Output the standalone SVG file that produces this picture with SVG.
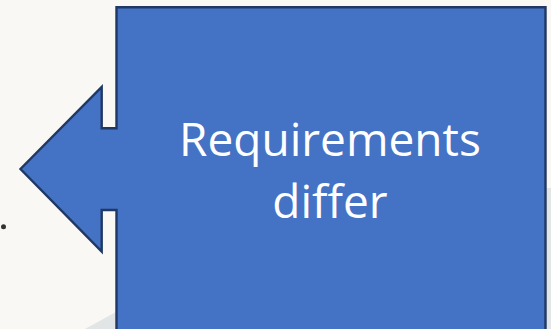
<svg xmlns="http://www.w3.org/2000/svg" width="551" height="329" viewBox="0 0 551 329">
  <style>
    .callout { fill: #4472C4; stroke: #1F3864; stroke-width: 2.4; stroke-linejoin: miter; }
    .label { font-family: "Open Sans", "Noto Sans", sans-serif; font-size: 46px; fill: #FFFFFF; text-anchor: middle; }
  </style>
  <rect x="0" y="0" width="551" height="329" fill="#F9F8F4"/>
  <path d="M85,329 Q334,188 551,188 L551,329 Z" fill="#E1E5E5"/>
  <circle cx="3.5" cy="226.7" r="2.5" fill="#333333"/>
  <g id="connectors"></g>
  <g id="node-requirements-differ">
    <path class="callout" d="M116.5,7.3 H545.5 V345 H116.5 V210 H101.7 V251.5 L20.5,169 L101.7,86.8 V128.3 H116.5 Z"/>
    <text class="label" x="330" y="155.5">Requirements</text>
    <text class="label" x="330" y="217.5">differ</text>
  </g>
</svg>
